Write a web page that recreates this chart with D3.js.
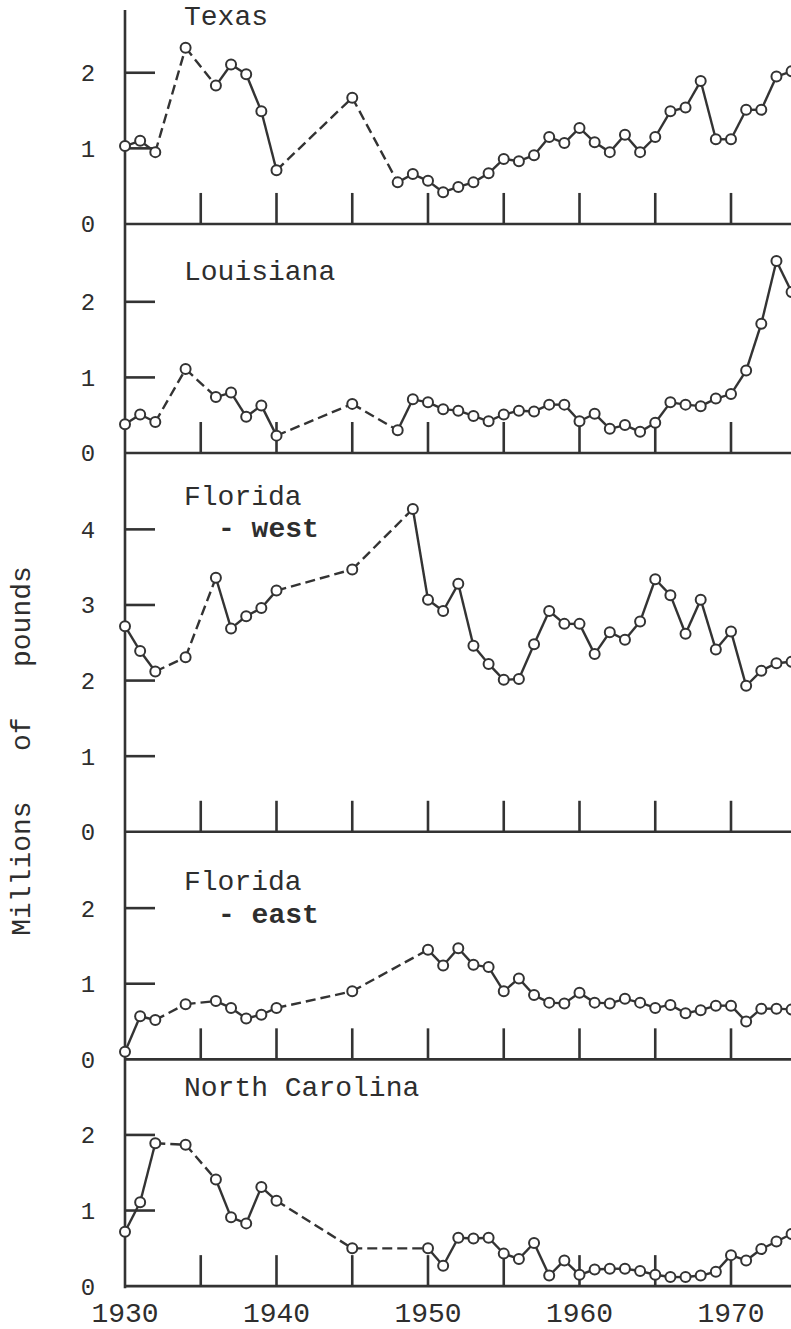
<!DOCTYPE html>
<html>
<head>
<meta charset="utf-8">
<script src="https://cdn.jsdelivr.net/npm/d3@7"></script>
<style>
  html, body { margin: 0; padding: 0; background: #fff; }
  svg { display: block; }
  text { font-family: "Liberation Mono", "DejaVu Sans Mono", monospace; fill: #2e2e2e; }
</style>
</head>
<body>
<svg id="chart" width="791" height="1329"></svg>
<script>
// Landings by state, millions of pounds
const panelNames = ["Texas", "Louisiana", "Florida", "Florida", "North Carolina"];
const panelSub = ["", "", "- west", "- east", ""];
const panelMax = [2.83, 3.03, 5.01, 3.01, 3.0];
const panelTicks = [[0, 1, 2], [0, 1, 2], [0, 1, 2, 3, 4], [0, 1, 2], [0, 1, 2]];

const texasYears = [1930, 1931, 1932, 1934, 1936, 1937, 1938, 1939, 1940, 1945, 1948, 1949, 1950, 1951, 1952, 1953, 1954, 1955, 1956, 1957, 1958, 1959, 1960, 1961, 1962, 1963, 1964, 1965, 1966, 1967, 1968, 1969, 1970, 1971, 1972, 1973, 1974];
const texasValues = [1.03, 1.10, 0.95, 2.33, 1.83, 2.11, 1.98, 1.49, 0.71, 1.67, 0.55, 0.66, 0.57, 0.42, 0.49, 0.55, 0.67, 0.86, 0.83, 0.91, 1.15, 1.07, 1.27, 1.08, 0.95, 1.18, 0.95, 1.15, 1.49, 1.54, 1.89, 1.12, 1.12, 1.51, 1.51, 1.95, 2.02];

const louisianaYears = [1930, 1931, 1932, 1934, 1936, 1937, 1938, 1939, 1940, 1945, 1948, 1949, 1950, 1951, 1952, 1953, 1954, 1955, 1956, 1957, 1958, 1959, 1960, 1961, 1962, 1963, 1964, 1965, 1966, 1967, 1968, 1969, 1970, 1971, 1972, 1973, 1974];
const louisianaValues = [0.38, 0.51, 0.41, 1.11, 0.74, 0.80, 0.48, 0.63, 0.23, 0.65, 0.30, 0.71, 0.67, 0.58, 0.56, 0.49, 0.42, 0.51, 0.56, 0.55, 0.64, 0.64, 0.42, 0.52, 0.32, 0.37, 0.28, 0.40, 0.67, 0.64, 0.62, 0.72, 0.78, 1.09, 1.71, 2.54, 2.13];

const floridaWestYears = [1930, 1931, 1932, 1934, 1936, 1937, 1938, 1939, 1940, 1945, 1949, 1950, 1951, 1952, 1953, 1954, 1955, 1956, 1957, 1958, 1959, 1960, 1961, 1962, 1963, 1964, 1965, 1966, 1967, 1968, 1969, 1970, 1971, 1972, 1973, 1974];
const floridaWestValues = [2.72, 2.39, 2.12, 2.31, 3.36, 2.69, 2.85, 2.96, 3.19, 3.47, 4.27, 3.07, 2.92, 3.28, 2.46, 2.22, 2.01, 2.02, 2.48, 2.92, 2.75, 2.75, 2.35, 2.64, 2.54, 2.78, 3.34, 3.13, 2.62, 3.07, 2.41, 2.65, 1.93, 2.13, 2.23, 2.25];

const floridaEastYears = [1930, 1931, 1932, 1934, 1936, 1937, 1938, 1939, 1940, 1945, 1950, 1951, 1952, 1953, 1954, 1955, 1956, 1957, 1958, 1959, 1960, 1961, 1962, 1963, 1964, 1965, 1966, 1967, 1968, 1969, 1970, 1971, 1972, 1973, 1974];
const floridaEastValues = [0.10, 0.57, 0.52, 0.73, 0.77, 0.68, 0.54, 0.59, 0.68, 0.90, 1.45, 1.24, 1.47, 1.25, 1.22, 0.90, 1.07, 0.85, 0.75, 0.74, 0.88, 0.75, 0.74, 0.80, 0.75, 0.68, 0.72, 0.61, 0.65, 0.71, 0.71, 0.50, 0.67, 0.67, 0.66];

const northCarolinaYears = [1930, 1931, 1932, 1934, 1936, 1937, 1938, 1939, 1940, 1945, 1950, 1951, 1952, 1953, 1954, 1955, 1956, 1957, 1958, 1959, 1960, 1961, 1962, 1963, 1964, 1965, 1966, 1967, 1968, 1969, 1970, 1971, 1972, 1973, 1974];
const northCarolinaValues = [0.72, 1.11, 1.89, 1.87, 1.41, 0.91, 0.83, 1.31, 1.13, 0.50, 0.50, 0.27, 0.64, 0.63, 0.64, 0.43, 0.36, 0.57, 0.14, 0.34, 0.15, 0.22, 0.23, 0.23, 0.20, 0.15, 0.12, 0.12, 0.14, 0.19, 0.41, 0.34, 0.49, 0.59, 0.69];

const xTickYears = [1935, 1940, 1945, 1950, 1955, 1960, 1965, 1970];
const xLabelYears = [1930, 1940, 1950, 1960, 1970];
const yTitle = "Millions   of   pounds";

const seriesYears = [texasYears, louisianaYears, floridaWestYears, floridaEastYears, northCarolinaYears];
const seriesValues = [texasValues, louisianaValues, floridaWestValues, floridaEastValues, northCarolinaValues];

// Layout
const ink = "#333";
const W = 791;
const axisX = 125;
const topY = 10;
const unitPx = 75.6;
// baseline offsets of each panel's title lines below the panel top
const titleOffset = [15, 56, 52, 58, 37];
const subOffset = [0, 0, 84, 91, 0];

const svg = d3.select("#chart");

const x = d3.scaleLinear().domain([1930, 1970]).range([axisX, 731]);

// Stack panels: each panel's height follows its value range at a common unit size
let cursor = topY;
const panels = panelMax.map((m, i) => {
  const top = cursor;
  const bottom = top + m * unitPx;
  cursor = bottom;
  return {
    i, top, bottom,
    y: d3.scaleLinear().domain([0, m]).range([bottom, top])
  };
});

const plotBottom = panels[panels.length - 1].bottom;

// Left axis spanning all panels
svg.append("line")
  .attr("x1", axisX).attr("x2", axisX)
  .attr("y1", topY).attr("y2", plotBottom + 2)
  .attr("stroke", ink).attr("stroke-width", 2.6);

panels.forEach(p => {
  const g = svg.append("g");
  const years = seriesYears[p.i];
  const vals = seriesValues[p.i];
  const pts = years.map((yr, k) => ({ yr, v: vals[k] }));

  // Panel base line
  g.append("line")
    .attr("x1", axisX).attr("x2", W)
    .attr("y1", p.bottom).attr("y2", p.bottom)
    .attr("stroke", ink).attr("stroke-width", 2.6);

  // Year ticks rising from the base line
  g.selectAll(".xt").data(xTickYears).join("line")
    .attr("x1", d => x(d)).attr("x2", d => x(d))
    .attr("y1", p.bottom).attr("y2", p.bottom - 31)
    .attr("stroke", ink).attr("stroke-width", 2.6);

  // Value ticks and labels
  const ticks = panelTicks[p.i];
  g.selectAll(".yt").data(ticks.filter(t => t > 0)).join("line")
    .attr("x1", axisX).attr("x2", axisX + 30)
    .attr("y1", d => p.y(d)).attr("y2", d => p.y(d))
    .attr("stroke", ink).attr("stroke-width", 2.6);
  g.selectAll(".yl").data(ticks).join("text")
    .attr("x", 88)
    .attr("y", d => p.y(d))
    .attr("dy", "0.35em")
    .attr("text-anchor", "middle")
    .attr("font-size", 24)
    .text(d => d);

  // Panel title
  g.append("text")
    .attr("x", 184)
    .attr("y", p.top + titleOffset[p.i])
    .attr("font-size", 28)
    .text(panelNames[p.i]);
  if (panelSub[p.i]) {
    g.append("text")
      .attr("x", 218)
      .attr("y", p.top + subOffset[p.i])
      .attr("font-size", 28)
      .attr("font-weight", "bold")
      .text(panelSub[p.i]);
  }

  // Connecting segments: dashed across missing years
  const segs = d3.pairs(pts);
  g.selectAll(".seg").data(segs).join("line")
    .attr("x1", d => x(d[0].yr)).attr("y1", d => p.y(d[0].v))
    .attr("x2", d => x(d[1].yr)).attr("y2", d => p.y(d[1].v))
    .attr("stroke", ink).attr("stroke-width", 2.4)
    .attr("stroke-dasharray", d => (d[1].yr - d[0].yr > 1) ? "10,5" : null);

  // Open circle markers
  g.selectAll(".pt").data(pts).join("circle")
    .attr("cx", d => x(d.yr))
    .attr("cy", d => p.y(d.v))
    .attr("r", 5)
    .attr("fill", "#fff")
    .attr("stroke", ink)
    .attr("stroke-width", 2);
});

// Year labels along the bottom
svg.selectAll(".xl").data(xLabelYears).join("text")
  .attr("x", d => x(d))
  .attr("y", plotBottom + 36)
  .attr("text-anchor", "middle")
  .attr("font-size", 28)
  .text(d => d);

// Vertical axis title
svg.append("text")
  .attr("transform", `translate(30, 751) rotate(-90)`)
  .attr("text-anchor", "middle")
  .attr("font-size", 28)
  .style("white-space", "pre")
  .text(yTitle);
</script>
</body>
</html>
